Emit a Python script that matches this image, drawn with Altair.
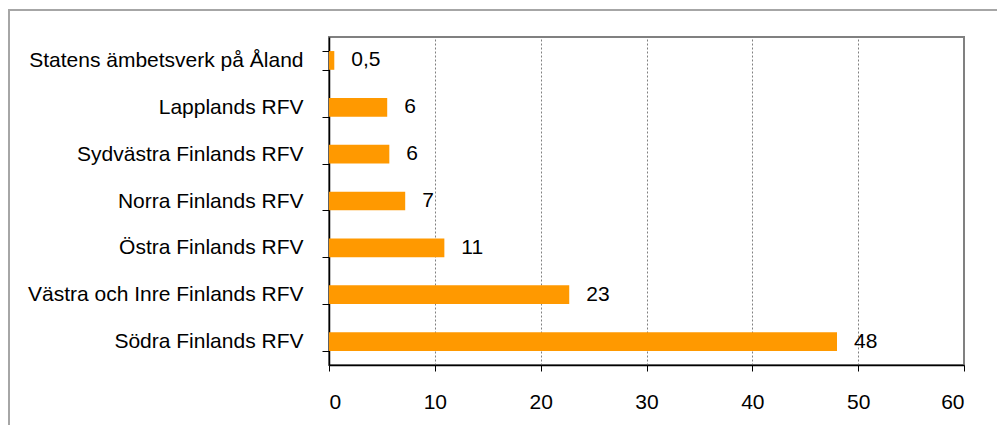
import altair as alt
import pandas as pd

categories = [
    "Statens ämbetsverk på Åland",
    "Lapplands RFV",
    "Sydvästra Finlands RFV",
    "Norra Finlands RFV",
    "Östra Finlands RFV",
    "Västra och Inre Finlands RFV",
    "Södra Finlands RFV",
]
values = [0.5, 5.5, 5.7, 7.2, 10.9, 22.7, 48.0]
labels = ["0,5", "6", "6", "7", "11", "23", "48"]
x_ticks = [0, 10, 20, 30, 40, 50, 60]

df = pd.DataFrame({"cat": categories, "val": values, "lab": labels})

FONT = "Liberation Sans"
ORANGE = "#FF9900"
FS = 21

y_enc = alt.Y(
    "cat:N",
    sort=categories,
    title=None,
    scale=alt.Scale(paddingInner=0.6, paddingOuter=0.3),
    axis=alt.Axis(
        labelFont=FONT, labelFontSize=FS, labelColor="#000000",
        labelPadding=19, tickSize=7, tickColor="#000000", tickBand="extent",
        domainColor="#000000", domainWidth=1.5, grid=False, labelLimit=400,
    ),
)
x_enc = alt.X(
    "val:Q",
    title=None,
    scale=alt.Scale(domain=[0, 60], nice=False),
    axis=alt.Axis(
        values=x_ticks, labelFont=FONT, labelFontSize=FS, labelColor="#000000",
        labelPadding=20, tickSize=6, tickColor="#000000",
        domainColor="#000000", domainWidth=1.5,
        grid=True, gridColor="#808080", gridDash=[2, 2], gridWidth=1,
    ),
)

frame = alt.Chart(df).mark_rect(fill=None, stroke="#a6a6a6", strokeWidth=1.5).encode(
    x=alt.value(-320), x2=alt.value(1000), y=alt.value(-27), y2=alt.value(500)
)

bars = alt.Chart(df).mark_bar(color=ORANGE).encode(y=y_enc, x=x_enc)
text = alt.Chart(df).mark_text(
    align="left", baseline="middle", dx=17, font=FONT, fontSize=FS, color="#000000"
).encode(y=alt.Y("cat:N", sort=categories), x="val:Q", text="lab:N")

chart = alt.layer(frame, bars, text).properties(
    width=635, height=328,
    autosize=alt.AutoSizeParams(type="none"),
    padding={"left": 321, "top": 29, "right": 33, "bottom": 60},
).configure_view(stroke="#808080", strokeWidth=2)

chart.save("out.html", embed_options={"renderer": "svg", "actions": False})
